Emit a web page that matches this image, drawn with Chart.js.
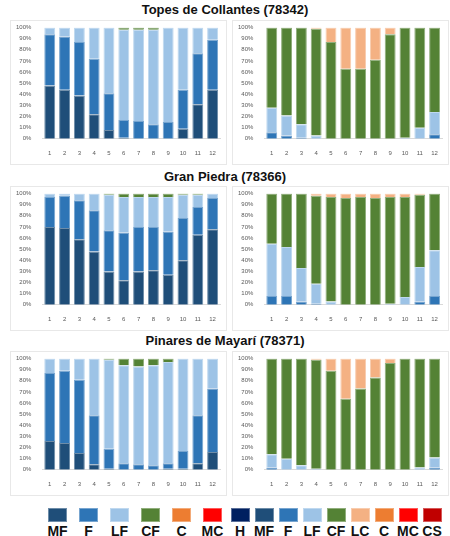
<!DOCTYPE html>
<html><head><meta charset="utf-8">
<script src="https://cdn.jsdelivr.net/npm/chart.js@4"></script>
<style>
body{margin:0;width:450px;height:536px;background:#fff;font-family:"Liberation Sans",Arial,sans-serif;position:relative;overflow:hidden}
.t{position:absolute;left:0;width:450px;text-align:center;font-weight:bold;font-size:13px;color:#111}
.p{position:absolute;width:217px;height:145px;border:1px solid #e8e8e8;box-sizing:border-box;background:#fff}
.p canvas{display:block}
.lg{position:absolute;top:508px;display:flex}
.lg div{display:flex;flex-direction:column;align-items:center;font-weight:bold;font-size:14px;color:#111}
.lg span{display:block;width:17px;height:12px;margin-bottom:1px}
</style></head><body>
<div class="t" style="top:2px">Topes de Collantes (78342)</div>
<div class="t" style="top:169px">Gran Piedra (78366)</div>
<div class="t" style="top:333px">Pinares de Mayarí (78371)</div>
<div class="p" style="left:10px;top:20px"><canvas id="c1" width="215" height="143"></canvas></div>
<div class="p" style="left:232px;top:20px"><canvas id="c2" width="215" height="143"></canvas></div>
<div class="p" style="left:10px;top:186px"><canvas id="c3" width="215" height="143"></canvas></div>
<div class="p" style="left:232px;top:186px"><canvas id="c4" width="215" height="143"></canvas></div>
<div class="p" style="left:10px;top:351px"><canvas id="c5" width="215" height="143"></canvas></div>
<div class="p" style="left:232px;top:351px"><canvas id="c6" width="215" height="143"></canvas></div>
<div class="lg" id="lg1" style="left:42px"></div>
<div class="lg" id="lg2" style="left:228px"></div>
<script>
const months=['1','2','3','4','5','6','7','8','9','10','11','12'];
const yTicks=['0%','10%','20%','30%','40%','50%','60%','70%','80%','90%','100%'];
const leftLabels=['MF','F','LF','CF','C','MC'];
const rightLabels=['H','MF','F','LF','CF','LC','C','MC','CS'];
const colors={H:'#002060',MF:'#1f4e79',F:'#2e75b6',LF:'#9dc3e6',CF:'#548235',LC:'#f4b183',C:'#ed7d31',MC:'#ff0000',CS:'#c00000'};
const Z=[0,0,0,0,0,0,0,0,0,0,0,0];
// Topes de Collantes
const topesL_MF=[48,44,39,22,8,1,0,0,0,9,31,44];
const topesL_F=[46,48,48,50,33,16,16,13,15,35,46,45];
const topesL_LF=[6,8,13,28,59,81,82,85,85,56,23,11];
const topesL_CF=[0,0,0,0,0,2,2,2,0,0,0,0];
const topesR_F=[6,3,1,0,0,0,0,0,0,0,0,4];
const topesR_LF=[22,18,12,3,0,0,0,0,0,1,10,20];
const topesR_CF=[72,79,87,96,87,63,63,71,94,99,90,76];
const topesR_LC=[0,0,0,1,13,37,37,29,6,0,0,0];
// Gran Piedra
const granL_MF=[70,69,59,48,30,22,30,31,27,40,63,68];
const granL_F=[27,29,35,37,37,43,40,39,39,38,25,28];
const granL_LF=[3,2,6,15,32,32,27,27,31,21,11,4];
const granL_CF=[0,0,0,0,1,3,3,3,3,1,1,0];
const granR_F=[8,8,3,1,0,0,0,0,0,0,3,8];
const granR_LF=[47,44,30,18,3,0,0,0,1,7,31,41];
const granR_CF=[45,48,67,79,94,96,97,96,96,90,65,51];
const granR_LC=[0,0,0,2,3,4,3,4,3,3,1,0];
// Pinares de Mayari
const pinL_MF=[26,24,15,5,1,0,0,0,1,1,6,16];
const pinL_F=[61,65,66,44,18,6,5,4,5,16,43,57];
const pinL_LF=[13,11,19,51,80,88,88,90,91,83,51,27];
const pinL_CF=[0,0,0,0,1,6,7,6,3,0,0,0];
const pinR_F=[2,0,0,0,0,0,0,0,0,0,0,2];
const pinR_LF=[12,10,4,1,0,0,0,0,0,0,2,9];
const pinR_CF=[86,90,96,98,89,64,73,83,96,100,98,89];
const pinR_LC=[0,0,0,1,11,36,27,17,4,0,0,0];

function lighten(h){const n=parseInt(h.slice(1),16);let r=n>>16,g=(n>>8)&255,b=n&255;
 r=Math.round(r+(255-r)*0.35);g=Math.round(g+(255-g)*0.35);b=Math.round(b+(255-b)*0.35);return `rgb(${r},${g},${b})`;}
function make(id,labels,series){
 const ds=labels.map(l=>({label:l,data:series[l]||Z,backgroundColor:colors[l],borderColor:lighten(colors[l]),borderWidth:1,categoryPercentage:0.82,barPercentage:0.9}));
 new Chart(document.getElementById(id),{type:'bar',data:{labels:months,datasets:ds},
  options:{responsive:false,animation:false,devicePixelRatio:1,
   layout:{padding:{top:4,right:6,left:2,bottom:4}},
   plugins:{legend:{display:false},tooltip:{enabled:false}},
   scales:{x:{stacked:true,grid:{display:false},border:{display:true,color:'#d9d9d9'},ticks:{color:'#595959',font:{size:6},padding:3}},
    y:{stacked:true,min:0,max:100,grid:{display:false},border:{display:false},
     ticks:{stepSize:10,color:'#595959',font:{size:6},callback:(v)=>yTicks[Math.round(v/10)]}}}}});
}
make('c1',leftLabels,{MF:topesL_MF,F:topesL_F,LF:topesL_LF,CF:topesL_CF});
make('c2',rightLabels,{F:topesR_F,LF:topesR_LF,CF:topesR_CF,LC:topesR_LC});
make('c3',leftLabels,{MF:granL_MF,F:granL_F,LF:granL_LF,CF:granL_CF});
make('c4',rightLabels,{F:granR_F,LF:granR_LF,CF:granR_CF,LC:granR_LC});
make('c5',leftLabels,{MF:pinL_MF,F:pinL_F,LF:pinL_LF,CF:pinL_CF});
make('c6',rightLabels,{F:pinR_F,LF:pinR_LF,CF:pinR_CF,LC:pinR_LC});
function legend(id,labels,w){const el=document.getElementById(id);
 labels.forEach(l=>{const d=document.createElement('div');d.style.width=w+'px';
 d.innerHTML=`<span style="background:${colors[l]};border:1px solid ${lighten(colors[l])}"></span>${l}`;el.appendChild(d);});}
legend('lg1',leftLabels,31);
legend('lg2',rightLabels,24);
</script></body></html>
